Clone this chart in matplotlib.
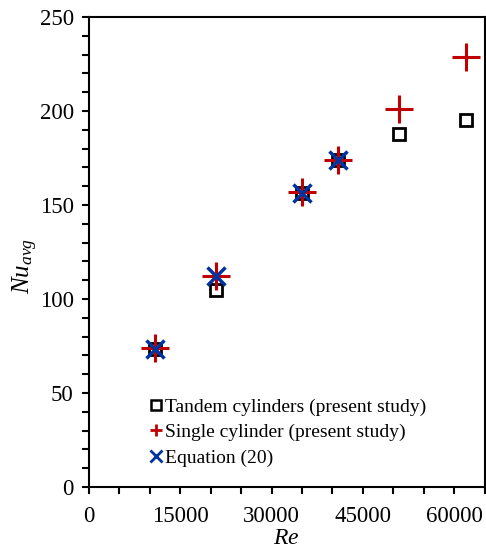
import matplotlib.pyplot as plt
from matplotlib.lines import Line2D
from matplotlib.ticker import MultipleLocator

plt.rcParams['font.family'] = ['Liberation Serif', 'DejaVu Serif']
plt.rcParams['mathtext.fontset'] = 'custom'
plt.rcParams['mathtext.it'] = 'Liberation Serif:italic'
plt.rcParams['mathtext.rm'] = 'Liberation Serif'

# Data
re_tandem = [10800, 20900, 35000, 40900, 51000, 62000]
nu_tandem = [73.5, 105, 156.5, 174, 188, 195.5]

re_single = [10800, 20900, 35000, 40900, 51000, 62000]
nu_single = [73.8, 112, 156.8, 174.2, 201, 228.5]

re_eq = [10800, 20900, 35000, 40900]
nu_eq = [73.5, 112.5, 156.5, 174]

fig = plt.figure(figsize=(4.86, 5.5), dpi=100)
ax = fig.add_axes([0.183, 0.1145, 0.814, 0.8545])

ax.plot(re_tandem, nu_tandem, linestyle='none', marker='s', markersize=9,
        markerfacecolor='none', markeredgecolor='black', markeredgewidth=2, zorder=3)
ax.plot(re_single, nu_single, linestyle='none', marker='+', markersize=20,
        color='#c00000', markeredgewidth=2.2, zorder=4)
ax.plot(re_eq, nu_eq, linestyle='none', marker='x', markersize=13,
        color='#0033a0', markeredgewidth=2.5, zorder=5)

ax.set_xlim(0, 65000)
ax.set_ylim(0, 250)
ax.xaxis.set_major_locator(MultipleLocator(15000))
ax.xaxis.set_minor_locator(MultipleLocator(5000))
ax.yaxis.set_major_locator(MultipleLocator(50))
ax.yaxis.set_minor_locator(MultipleLocator(10))
ax.tick_params(which='both', direction='out', length=5, width=1.5,
               labelsize=16.5, top=False, right=False)
ax.tick_params(axis='x', pad=9)
ax.tick_params(axis='y', pad=6)
for s in ax.spines.values():
    s.set_linewidth(1.5)

ax.set_xlabel(r'$Re$', fontsize=17)
ax.xaxis.set_label_coords(0.5, -0.088)
ax.set_ylabel(r'$Nu_{avg}$', fontsize=18)
ax.yaxis.set_label_coords(-0.123, 0.47)

handles = [
    Line2D([], [], linestyle='none', marker='s', markersize=7, markerfacecolor='none',
           markeredgecolor='black', markeredgewidth=1.8, label='Tandem cylinders (present study)'),
    Line2D([], [], linestyle='none', marker='+', markersize=8, color='#c00000',
           markeredgewidth=2, label='Single cylinder (present study)'),
    Line2D([], [], linestyle='none', marker='x', markersize=8, color='#0033a0',
           markeredgewidth=2, label='Equation (20)'),
]
ax.legend(handles=handles, loc='lower left', bbox_to_anchor=(0.135, 0.026), frameon=False,
          fontsize=14, handlelength=0.6, handletextpad=0.15, labelspacing=0.415,
          borderaxespad=0)

fig.savefig('out.png', dpi=100)
